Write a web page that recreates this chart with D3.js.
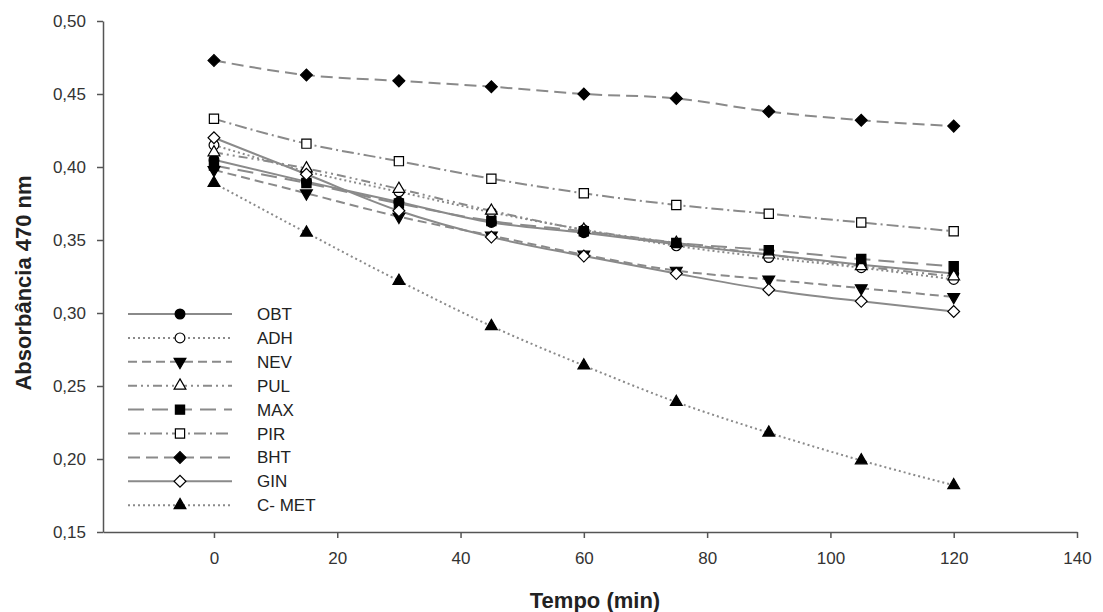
<!DOCTYPE html>
<html><head><meta charset="utf-8">
<script src="https://cdn.jsdelivr.net/npm/d3@7"></script>
<style>body{margin:0;background:#fff}svg{font-family:"Liberation Sans",Arial,sans-serif}</style>
</head><body><svg id="c" width="1103" height="612"></svg>
<script>
const times = [0, 15, 30, 45, 60, 75, 90, 105, 120];
const seriesNames = ["OBT","ADH","NEV","PUL","MAX","PIR","BHT","GIN","C- MET"];
const OBT  = [0.405,0.390,0.376,0.362,0.355,0.347,0.340,0.333,0.327];
const ADH  = [0.415,0.397,0.383,0.369,0.357,0.346,0.338,0.331,0.323];
const NEV  = [0.398,0.382,0.366,0.353,0.340,0.329,0.323,0.317,0.311];
const PUL  = [0.410,0.399,0.385,0.370,0.357,0.348,0.340,0.332,0.325];
const MAX  = [0.401,0.389,0.375,0.363,0.356,0.348,0.343,0.337,0.332];
const PIR  = [0.433,0.416,0.404,0.392,0.382,0.374,0.368,0.362,0.356];
const BHT  = [0.473,0.463,0.459,0.455,0.450,0.447,0.438,0.432,0.428];
const GIN  = [0.420,0.395,0.370,0.352,0.339,0.327,0.316,0.308,0.301];
const CMET = [0.389,0.355,0.322,0.291,0.264,0.239,0.218,0.199,0.182];
const xTicks = [0,20,40,60,80,100,120,140];
const yTicks = [0.15,0.20,0.25,0.30,0.35,0.40,0.45,0.50];

const values = [OBT,ADH,NEV,PUL,MAX,PIR,BHT,GIN,CMET];
const styles = [
  {dash:null, sym:d3.symbolCircle, fill:"#000", size:75},
  {dash:"2,3", sym:d3.symbolCircle, fill:"#fff", size:75},
  {dash:"9,5", sym:d3.symbolTriangle, fill:"#000", rot:180, size:60},
  {dash:"9,4,2,4,2,4", sym:d3.symbolTriangle, fill:"#fff", size:60},
  {dash:"16,8", sym:d3.symbolSquare, fill:"#000", size:85},
  {dash:"12,4,2,4", sym:d3.symbolSquare, fill:"#fff", size:85},
  {dash:"12,6", sym:d3.symbolSquare, fill:"#000", rot:45, size:70},
  {dash:null, sym:d3.symbolSquare, fill:"#fff", rot:45, size:70},
  {dash:"2,3", sym:d3.symbolTriangle, fill:"#000", size:60}
];

const svg = d3.select("#c");
const x = d3.scaleLinear().domain([-18,140]).range([103,1077]);
const y = d3.scaleLinear().domain([0.15,0.50]).range([532,21]);
const fmt = d => d3.format(".2f")(d).replace(".", ",");

const gx = svg.append("g").attr("transform","translate(0,532)")
  .call(d3.axisBottom(x).tickValues(xTicks).tickSize(6).tickPadding(14).tickSizeOuter(0));
const gy = svg.append("g").attr("transform","translate(103,0)")
  .call(d3.axisLeft(y).tickValues(yTicks).tickFormat(fmt).tickSize(6).tickPadding(11).tickSizeOuter(0));
[gx,gy].forEach(g=>{
  g.selectAll("text").attr("font-size",17).attr("fill","#333").attr("font-family","Liberation Sans, Arial, sans-serif");
  g.selectAll("line,path").attr("stroke","#555").attr("stroke-width",1.5);
});

svg.append("text").attr("x",595).attr("y",608).attr("text-anchor","middle")
  .attr("font-size",22).attr("font-weight","bold").attr("fill","#222").text("Tempo (min)");
svg.append("text").attr("transform","translate(31,283) rotate(-90)").attr("text-anchor","middle")
  .attr("font-size",22).attr("font-weight","bold").attr("fill","#222").text("Absorbância 470 nm");

const line = d3.line().x((d,i)=>x(times[i])).y(d=>y(d)).curve(d3.curveMonotoneX);
values.forEach((vals,k)=>{
  const st = styles[k];
  svg.append("path").attr("d",line(vals)).attr("fill","none").attr("stroke","#8a8a8a")
    .attr("stroke-width",2).attr("stroke-dasharray",st.dash);
});
values.forEach((vals,k)=>{
  const st = styles[k];
  svg.append("g").selectAll("path").data(vals).join("path")
    .attr("d",d3.symbol().type(st.sym).size(st.size))
    .attr("transform",(d,i)=>`translate(${x(times[i])},${y(d)}) rotate(${st.rot||0})`)
    .attr("fill",st.fill).attr("stroke","#000").attr("stroke-width",1.2);
});

// legend
const lg = svg.append("g");
seriesNames.forEach((name,k)=>{
  const st = styles[k];
  const yy = 314 + k*23.9;
  lg.append("line").attr("x1",128).attr("x2",232).attr("y1",yy).attr("y2",yy)
    .attr("stroke","#8a8a8a").attr("stroke-width",2).attr("stroke-dasharray",st.dash);
  lg.append("path").attr("d",d3.symbol().type(st.sym).size(st.size))
    .attr("transform",`translate(180,${yy}) rotate(${st.rot||0})`)
    .attr("fill",st.fill).attr("stroke","#000").attr("stroke-width",1.2);
  lg.append("text").attr("x",257).attr("y",yy+6).attr("font-size",17).attr("fill","#222").text(name);
});
</script></body></html>
